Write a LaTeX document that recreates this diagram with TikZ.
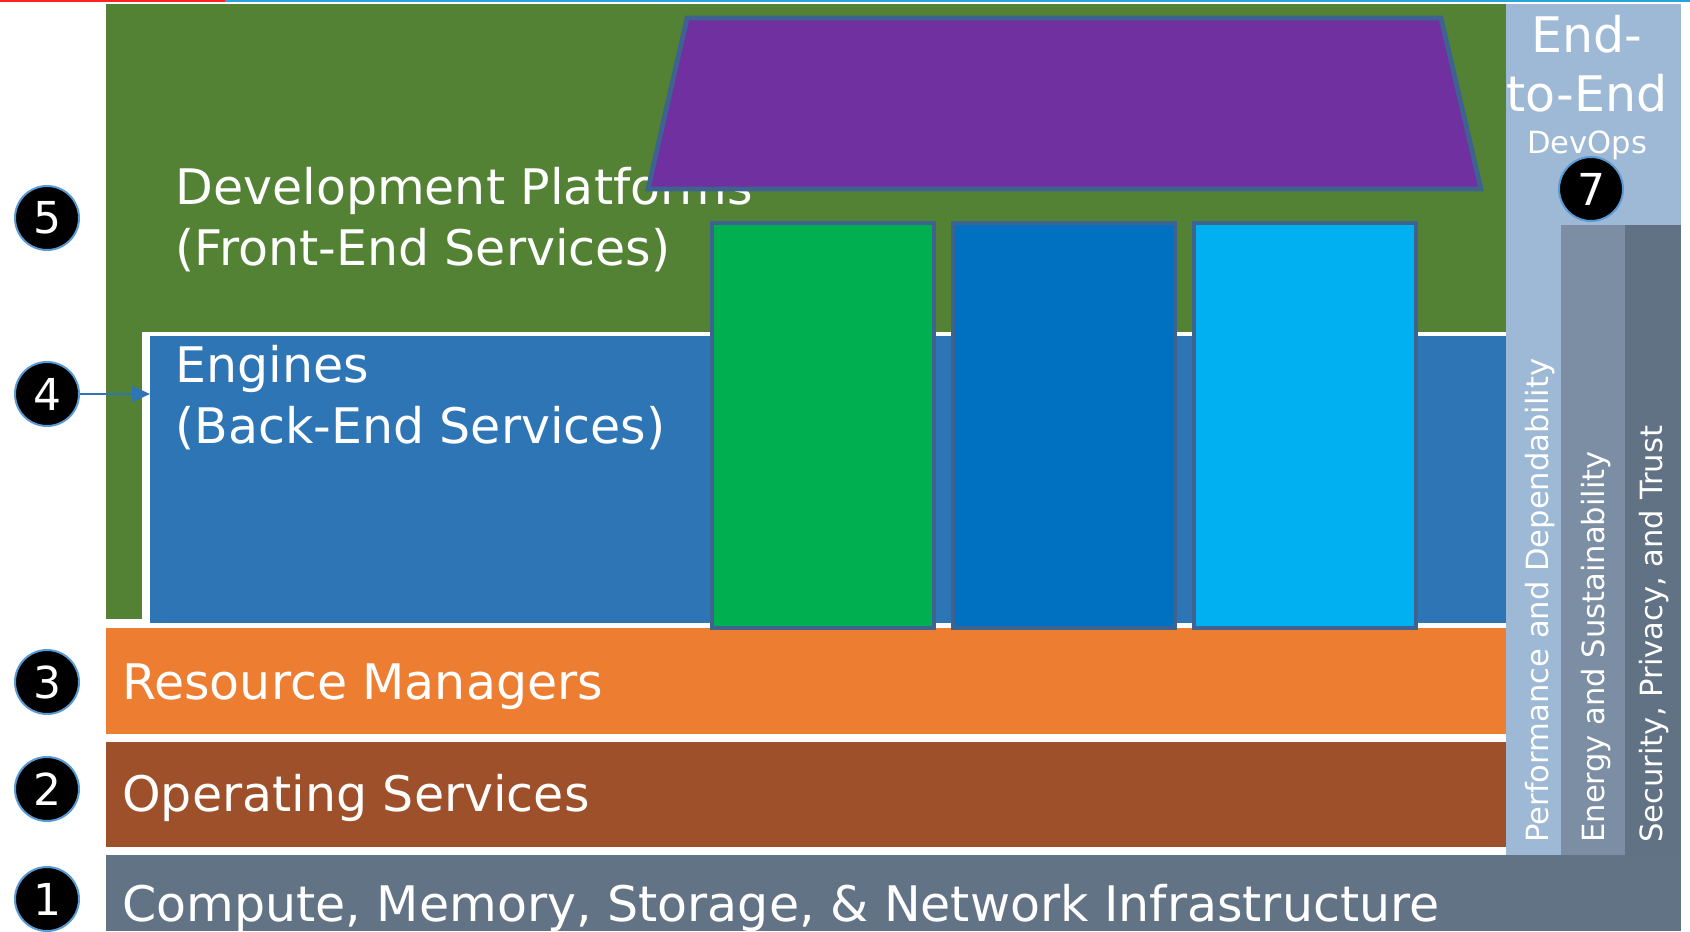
\documentclass[tikz,border=0pt]{standalone}
\usepackage{fontspec}
\setmainfont{DejaVu Sans}
\usetikzlibrary{arrows.meta}
\definecolor{panelgreen}{HTML}{548235}
\definecolor{engblue}{HTML}{2E75B6}
\definecolor{resorange}{HTML}{ED7D31}
\definecolor{opbrown}{HTML}{9D5029}
\definecolor{infragrey}{HTML}{637386}
\definecolor{collight}{HTML}{9DB9D5}
\definecolor{colmid}{HTML}{7C8EA3}
\definecolor{coldark}{HTML}{627285}
\definecolor{roofpurple}{HTML}{7030A0}
\definecolor{edgeblue}{HTML}{3F6391}
\definecolor{pgreen}{HTML}{00B050}
\definecolor{pblue}{HTML}{0070C0}
\definecolor{pcyan}{HTML}{00B0F0}
\definecolor{circblue}{HTML}{5B9BD5}
\definecolor{arrowblue}{HTML}{2E75B6}
\definecolor{topred}{HTML}{FF2020}
\definecolor{topblue}{HTML}{29A3DD}
\begin{document}
\begin{tikzpicture}[x=0.5pt,y=-0.5pt,
  lbl/.style={anchor=base west, inner sep=0pt, text=white, align=left,
    font=\fontsize{24.5}{30.5}\selectfont},
  vlbl/.style={anchor=base west, rotate=90, inner sep=0pt, text=white,
    font=\fontsize{15.3}{18}\selectfont},
  num/.style={circle, fill=black, draw=circblue, line width=1pt,
    minimum size=32pt, inner sep=0pt, text=white,
    font=\fontsize{22}{22}\selectfont},
  pillar/.style={draw=edgeblue, line width=2.4pt}]
\useasboundingbox (0,0) rectangle (1690,931);
% top rules
\fill[topred] (0,0) rectangle (225,1.6);
\fill[topblue] (225,0) rectangle (1690,1.6);
% layers
\fill[panelgreen] (106,4) rectangle (1506,619);
\fill[white] (142,332) rectangle (1506,626);
\fill[engblue] (150,336) rectangle (1506,623);
\fill[resorange] (106,628) rectangle (1506,734);
\fill[opbrown] (106,742) rectangle (1506,847);
\fill[infragrey] (106,855) rectangle (1681,931);
% right column
\fill[collight] (1506,4) rectangle (1681,855);
\fill[colmid] (1561,225) rectangle (1625,855);
\fill[coldark] (1625,225) rectangle (1681,855);
% labels (base anchor = baseline of the last line)
\node[lbl] (dev) at (175,265) {Development Platforms\\(Front-End Services)};
\node[lbl] (eng) at (175,443) {Engines\\(Back-End Services)};
\node[lbl] (res) at (122,699) {Resource Managers};
\node[lbl] (ops) at (122,811) {Operating Services};
\node[lbl] (inf) at (122,921) {Compute, Memory, Storage, \& Network Infrastructure};
% roof and pillars
\draw[pillar, fill=roofpurple] (687,18) -- (1441,18) -- (1481,189) -- (648,189) -- cycle;
\draw[pillar, fill=pgreen] (712,223) rectangle (934,628);
\draw[pillar, fill=pblue] (953,223) rectangle (1175,628);
\draw[pillar, fill=pcyan] (1194,223) rectangle (1416,628);
% right column text
\node[anchor=base, inner sep=0pt, text=white, align=center,
  font=\fontsize{24.5}{29.5}\selectfont] (e2e) at (1587,112) {End-\\to-End};
\node[anchor=base, inner sep=0pt, text=white,
  font=\fontsize{15.3}{18}\selectfont] (devops) at (1587,153) {DevOps};
\node[vlbl] (perf) at (1548,843) {Performance and Dependability};
\node[vlbl] (energy) at (1604,843) {Energy and Sustainability};
\node[vlbl] (sec) at (1662,843) {Security, Privacy, and Trust};
% numbers
\node[num] (n5) at (47,218) {5};
\node[num] (n4) at (47,394) {4};
\node[num] (n3) at (47,682) {3};
\node[num] (n2) at (47,789) {2};
\node[num] (n1) at (47,899) {1};
\node[num] (n7) at (1591,189) {7};
\coordinate (engW) at (150,394);
\draw[arrowblue, line width=1.1pt, -{Triangle[length=9pt,width=8pt]}] (n4.east) -- (engW);
\end{tikzpicture}
\end{document}
